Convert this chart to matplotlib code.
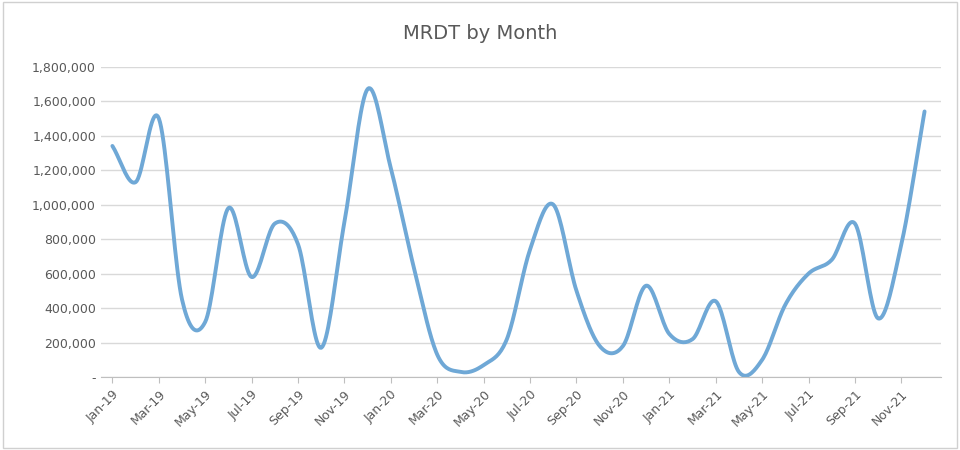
import numpy as np
import matplotlib.pyplot as plt
from matplotlib.ticker import FuncFormatter

MONTHS = [f"{m}-{y}" for y in ("19", "20", "21")
          for m in ("Jan", "Feb", "Mar", "Apr", "May", "Jun",
                    "Jul", "Aug", "Sep", "Oct", "Nov", "Dec")]
MRDT = [1340000, 1130000, 1500000, 450000, 320000, 980000, 580000, 890000,
        770000, 170000, 900000, 1670000, 1210000, 630000, 130000, 30000,
        70000, 220000, 740000, 1000000, 500000, 180000, 180000, 530000,
        250000, 220000, 440000, 30000, 100000, 420000, 600000, 680000,
        890000, 340000, 770000, 1540000]


def catmull_rom(x, y, steps=20):
    # smoothed line like Excel's "smoothed line" option
    px = np.concatenate([[2 * x[0] - x[1]], x, [2 * x[-1] - x[-2]]])
    py = np.concatenate([[2 * y[0] - y[1]], y, [2 * y[-1] - y[-2]]])
    xs, ys = [], []
    t = np.linspace(0, 1, steps, endpoint=False)
    for i in range(1, len(px) - 2):
        for p, out in ((px, xs), (py, ys)):
            p0, p1, p2, p3 = p[i - 1:i + 3]
            out.extend(0.5 * (2 * p1 + (-p0 + p2) * t
                              + (2 * p0 - 5 * p1 + 4 * p2 - p3) * t ** 2
                              + (-p0 + 3 * p1 - 3 * p2 + p3) * t ** 3))
    xs.append(x[-1])
    ys.append(y[-1])
    return np.array(xs), np.array(ys)


fig = plt.figure(figsize=(9.6, 4.5), dpi=100)
ax = fig.add_axes([0.105, 0.162, 0.875, 0.69])

x = np.arange(len(MRDT), dtype=float)
sx, sy = catmull_rom(x, np.array(MRDT, dtype=float))
ax.plot(sx, sy, color="#6fa8d6", linewidth=2.8, solid_capstyle="round")

ax.set_xlim(-0.5, len(MRDT) - 0.3)
ax.set_ylim(0, 1800000)
ax.set_yticks(range(0, 1800001, 200000))
ax.yaxis.set_major_formatter(FuncFormatter(lambda v, _: "-" if v == 0 else f"{v:,.0f}"))
ax.set_xticks(x[::2])
ax.set_xticklabels(MONTHS[::2], rotation=45, ha="right", rotation_mode="anchor")
ax.grid(axis="y", color="#d9d9d9", linewidth=1)
ax.set_axisbelow(True)
for side in ("top", "right", "left"):
    ax.spines[side].set_visible(False)
ax.spines["bottom"].set_color("#bfbfbf")
ax.tick_params(axis="both", colors="#595959", labelsize=9, length=0)
ax.tick_params(axis="x", length=4, color="#bfbfbf")

fig.text(0.5, 0.925, "MRDT by Month", ha="center", va="center", fontsize=14, color="#595959")
fig.patches.append(plt.Rectangle((0.003, 0.005), 0.994, 0.99, transform=fig.transFigure,
                                 fill=False, edgecolor="#d0d0d0", linewidth=1))

plt.savefig("out.png")
